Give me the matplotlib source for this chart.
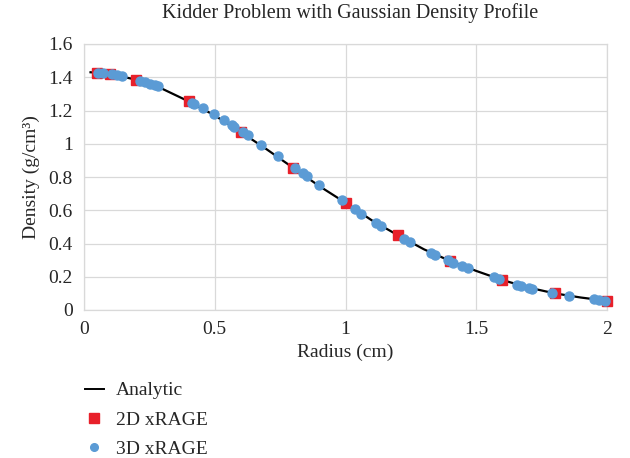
import matplotlib
matplotlib.use("Agg")
import matplotlib.pyplot as plt
from matplotlib.lines import Line2D

plt.rcParams['font.family'] = ['Liberation Serif', 'DejaVu Serif']

# ── Data ───────────────────────────────────────────────────────────────────────
r_analytic = [0.025, 0.1, 0.2, 0.3, 0.4, 0.5, 0.6, 0.7, 0.8, 0.9, 1.0,
              1.1, 1.2, 1.3, 1.4, 1.5, 1.6, 1.7, 1.8, 1.9, 2.0]
rho_analytic = [1.43, 1.42, 1.385, 1.33, 1.255, 1.17, 1.07, 0.965, 0.855, 0.745, 0.645,
                0.54, 0.45, 0.365, 0.295, 0.235, 0.18, 0.135, 0.10, 0.075, 0.055]

r_2d = [0.05, 0.1, 0.2, 0.4, 0.6, 0.8, 1.0, 1.2, 1.4, 1.6, 1.8, 2.0]
rho_2d = [1.428, 1.42, 1.385, 1.255, 1.07, 0.855, 0.645, 0.45, 0.295, 0.18, 0.10, 0.055]

r_3d = [0.053, 0.073, 0.107, 0.126, 0.145, 0.214, 0.233, 0.252, 0.271, 0.282,
        0.412, 0.42, 0.454, 0.496, 0.534, 0.565, 0.573, 0.607, 0.626, 0.676,
        0.740, 0.805, 0.836, 0.851, 0.897, 0.985, 1.038, 1.061, 1.118, 1.134,
        1.225, 1.248, 1.328, 1.344, 1.393, 1.412, 1.447, 1.469, 1.569, 1.588,
        1.656, 1.672, 1.702, 1.714, 1.790, 1.855, 1.950, 1.969, 1.992]
rho_3d = [1.428, 1.426, 1.42, 1.414, 1.408, 1.378, 1.370, 1.362, 1.352, 1.345,
          1.247, 1.240, 1.214, 1.178, 1.140, 1.112, 1.102, 1.070, 1.050, 0.993,
          0.925, 0.854, 0.822, 0.805, 0.752, 0.660, 0.605, 0.580, 0.525, 0.508,
          0.428, 0.410, 0.345, 0.333, 0.298, 0.285, 0.262, 0.250, 0.196, 0.186,
          0.152, 0.146, 0.134, 0.129, 0.102, 0.087, 0.066, 0.060, 0.056]

x_ticks = [0, 0.5, 1, 1.5, 2]
x_tick_labels = ["0", "0.5", "1", "1.5", "2"]
y_ticks = [0, 0.2, 0.4, 0.6, 0.8, 1.0, 1.2, 1.4, 1.6]
y_tick_labels = ["0", "0.2", "0.4", "0.6", "0.8", "1", "1.2", "1.4", "1.6"]

C_RED = "#E8202A"
C_BLUE = "#5B9BD5"
C_GRID = "#D9D9D9"
C_TEXT = "#262626"

fig = plt.figure(figsize=(6.3, 4.58), dpi=100)
ax = fig.add_axes([84 / 630, 1 - 310 / 458, 523 / 630, 266 / 458])

ax.plot(r_analytic, rho_analytic, color="black", lw=1.6, zorder=3)
ax.plot(r_2d, rho_2d, ls="none", marker="s", ms=7.2, mfc=C_RED, mec=C_RED,
        zorder=4, clip_on=False)
ax.plot(r_3d, rho_3d, ls="none", marker="o", ms=6.5, mfc=C_BLUE, mec=C_BLUE,
        zorder=5, clip_on=False)

ax.set_xlim(0, 2)
ax.set_ylim(0, 1.6)
ax.set_xticks(x_ticks, x_tick_labels)
ax.set_yticks(y_ticks, y_tick_labels)
ax.tick_params(length=0, labelsize=14, colors=C_TEXT, pad=8)
ax.grid(True, color=C_GRID, lw=0.9, zorder=0)
ax.set_axisbelow(True)
for s in ax.spines.values():
    s.set_color(C_GRID)
    s.set_linewidth(0.9)

ax.set_xlabel("Radius (cm)", fontsize=14, color=C_TEXT, labelpad=4)
ax.set_ylabel("Density (g/cm³)", fontsize=14, color=C_TEXT, labelpad=6)
fig.text(350 / 630, 1 - 13 / 458, "Kidder Problem with Gaussian Density Profile",
         ha="center", va="center", fontsize=14.5, color=C_TEXT)

handles = [
    Line2D([], [], color="black", lw=1.4, label="Analytic"),
    Line2D([], [], ls="none", marker="s", ms=6.5, mfc=C_RED, mec=C_RED, label="2D xRAGE"),
    Line2D([], [], ls="none", marker="o", ms=5.5, mfc=C_BLUE, mec=C_BLUE, label="3D xRAGE"),
]
fig.legend(handles=handles, loc="upper left", bbox_to_anchor=(75 / 630, 1 - 372 / 458),
           frameon=False, fontsize=14, handlelength=1.0, handletextpad=0.6,
           labelspacing=0.6, borderpad=0, labelcolor=C_TEXT)

fig.savefig("out.png", dpi=100, facecolor="white")
